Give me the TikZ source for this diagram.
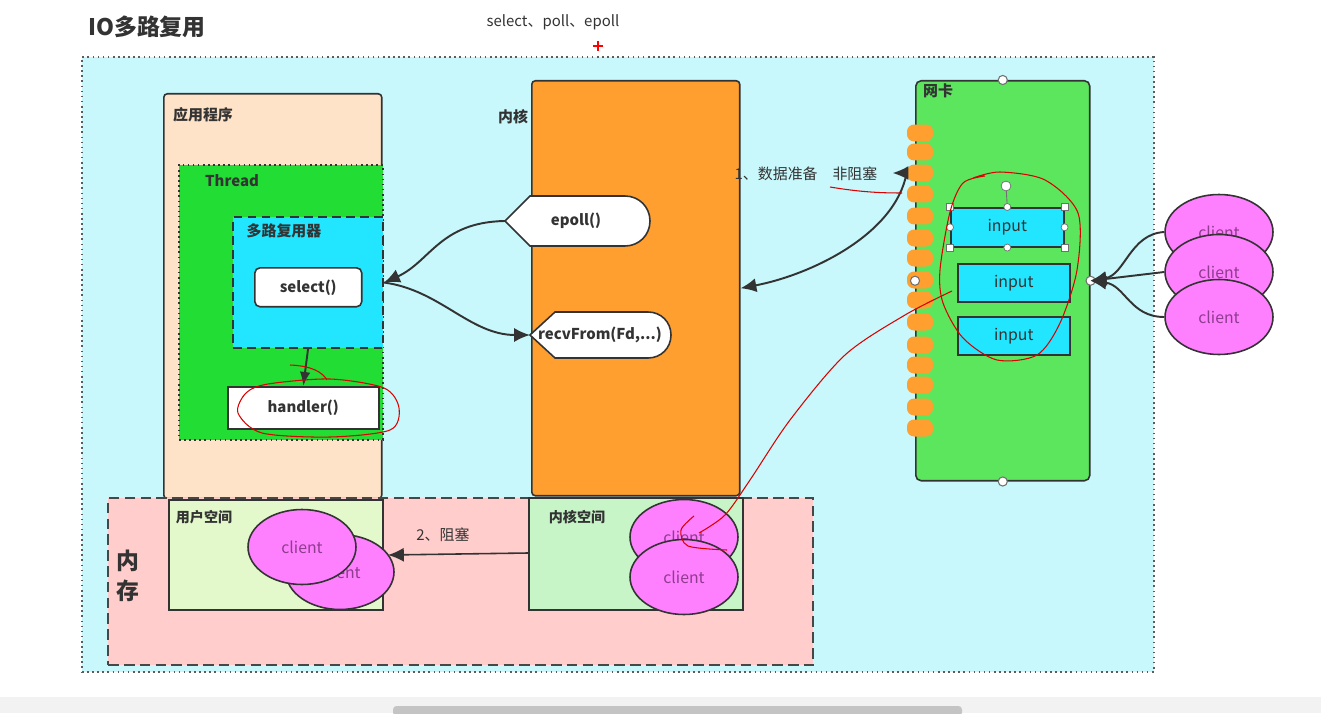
\documentclass[tikz,border=0pt]{standalone}
\usepackage{fontspec}
\setmainfont{Noto Sans CJK SC}
\usetikzlibrary{shapes.geometric,arrows.meta,calc}
\definecolor{bgcyan}{HTML}{C8F8FC}
\definecolor{peach}{HTML}{FFE3C8}
\definecolor{thrgreen}{HTML}{22DD33}
\definecolor{muxcyan}{HTML}{22E6FF}
\definecolor{kernorange}{HTML}{FF9F30}
\definecolor{nicgreen}{HTML}{5CE65E}
\definecolor{mempink}{HTML}{FFCDCB}
\definecolor{userspace}{HTML}{E3F9CB}
\definecolor{kernspace}{HTML}{C8F5C8}
\definecolor{clientpink}{HTML}{FF80FF}
\definecolor{clienttext}{HTML}{8E3C8E}
\definecolor{edge}{HTML}{333333}
\newcommand{\FS}{\fontsize{8}{10}\selectfont}
\newcommand{\FB}{\fontsize{8.5}{10}\selectfont\bfseries}

\begin{document}
\begin{tikzpicture}[x=0.02cm,y=-0.02cm]
\tikzstyle{box}=[draw=edge,line width=0.9pt,anchor=north west,inner sep=0pt]
\tikzstyle{lbl}=[font=\FB,text=edge]
\tikzstyle{client}=[ellipse,draw=edge,line width=0.9pt,fill=clientpink,minimum width=2.16cm,minimum height=1.5cm,inner sep=0pt,text=clienttext,font=\fontsize{9}{10}\selectfont]
\tikzstyle{inbox}=[box,fill=muxcyan,font=\fontsize{9}{10}\selectfont,text=edge]
\tikzstyle{arr}=[edge,line width=1.1pt,-{Latex[length=9pt,width=8pt]}]
\tikzstyle{scribble}=[red!85!black,line width=0.6pt]
\tikzstyle{handle}=[draw=edge!70,fill=white,line width=0.4pt]

\useasboundingbox (0,0) rectangle (1321,713);
\fill[white] (0,0) rectangle (1321,713);

% title
\node[font=\fontsize{13}{15}\selectfont\bfseries,text=edge] (title) at (147,27) {IO多路复用};
\node[font=\fontsize{8.5}{10}\selectfont,text=edge] (apis) at (553,22) {select、poll、epoll};
\draw[red,line width=0.8pt] (593,46) -- (603,46) (598,41) -- (598,51);

% outer area
\node[box,draw=edge!80,dotted,line width=1.1pt,fill=bgcyan,minimum width=21.44cm,minimum height=12.3cm] (outer) at (81,56) {};

% application
\node[box,fill=peach,rounded corners=2pt,minimum width=4.36cm,minimum height=8.1cm] (app) at (163,93) {};
\node[lbl] at (203,115) {应用程序};
\node[box,fill=thrgreen,dotted,line width=1.1pt,minimum width=4.08cm,minimum height=5.5cm] (thread) at (178,164) {};
\node[lbl] at (232,181) {Thread};
\node[box,fill=muxcyan,dash pattern=on 5pt off 3pt,line width=1.2pt,minimum width=3.0cm,minimum height=2.62cm] (mux) at (232,216) {};
\node[lbl] at (284,231) {多路复用器};
\node[box,fill=white,rounded corners=3pt,minimum width=2.14cm,minimum height=0.78cm] (sel) at (254,267) {};
\node[lbl] at (sel.center) {select()};
\node[box,fill=white,minimum width=3.02cm,minimum height=0.84cm] (hdl) at (227,386) {};
\node[lbl] at (hdl.center) {handler()};
\draw[arr,-{Latex[length=8pt,width=6pt]}] (mux.south) -- (hdl.north);

% kernel
\node[lbl] at (513,117) {内核};
\node[box,fill=kernorange,rounded corners=2pt,minimum width=4.16cm,minimum height=8.3cm] (kern) at (531,80) {};
\draw[draw=edge,line width=0.9pt,fill=white] (505,221) -- (530,196) -- (625,196)
  .. controls (639,196) and (650,207) .. (650,221)
  .. controls (650,235) and (639,246) .. (625,246) -- (530,246) -- cycle;
\coordinate (epollTip) at (505,221);
\node[lbl] (epoll) at (576,221) {epoll()};
\draw[draw=edge,line width=0.9pt,fill=white] (530,335) -- (555,312) -- (648,312)
  .. controls (661,312) and (671,322) .. (671,335)
  .. controls (671,348) and (661,358) .. (648,358) -- (555,358) -- cycle;
\coordinate (recvTip) at (530,335);
\node[lbl] (recv) at (600,335) {recvFrom(Fd,...)};
\draw[arr] (epollTip) .. controls (440,222) and (430,262) .. (mux.east);
\draw[arr] (mux.east) .. controls (440,290) and (470,335) .. (recvTip);

% network card
\node[box,fill=nicgreen,rounded corners=3pt,minimum width=3.48cm,minimum height=8.0cm] (nic) at (915,80) {};
\node[lbl] at (938,91) {网卡};
\foreach \y [count=\i] in {133,152,173,194,216,238,258,280,300,322,345,365,385,407,428}
  \node[fill=kernorange,rounded corners=4pt,minimum width=0.52cm,minimum height=0.34cm,inner sep=0pt] (p\i) at (920,\y) {};
\foreach \a in {north,south,west,east}
  \draw[handle,line width=0.6pt] (nic.\a) circle[radius=2.6pt];

\node[inbox,minimum width=2.26cm,minimum height=0.78cm] (in1) at (950,207) {};
\node[font=\fontsize{9}{10}\selectfont,text=edge] at (in1.center) {input};
\node[inbox,minimum width=2.24cm,minimum height=0.76cm] (in2) at (957,263) {};
\node[font=\fontsize{9}{10}\selectfont,text=edge] at (in2.center) {input};
\node[inbox,minimum width=2.24cm,minimum height=0.76cm] (in3) at (957,316) {};
\node[font=\fontsize{9}{10}\selectfont,text=edge] at (in3.center) {input};
% selection handles
\draw[edge!70,line width=0.5pt] (in1.north) -- (1006,186);
\draw[handle] (1006,186) circle[radius=2.8pt];
\foreach \a in {north,south,west,east}
  \draw[handle] (in1.\a) circle[radius=2pt];
\foreach \a in {north west,north east,south west,south east}
  \draw[handle] ($(in1.\a)+(-3.5,-3.5)$) rectangle ++(7,7);

\node[font=\fontsize{8.5}{10}\selectfont,text=edge] (step1) at (806,174) {1、数据准备\quad 非阻塞};
\draw[arr] (p3.west) .. controls (895,235) and (810,275) .. (kern.east);
\draw[arr] (p3.west) -- ++(-14,0);

% clients outside
\node[client] (c1) at (1219,232) {client};
\node[client] (c2) at (1219,272) {client};
\node[client] (c3) at (1219,317) {client};
\draw[arr] (c1.west) .. controls (1130,234) and (1125,275) .. (nic.east);
\draw[arr] (c2.west) -- (nic.east);
\draw[arr] (c3.west) .. controls (1130,317) and (1125,285) .. (nic.east);

% memory
\node[box,fill=mempink,dash pattern=on 6pt off 3pt,line width=1.4pt,draw=edge!90,minimum width=14.1cm,minimum height=3.34cm] (mem) at (107,497) {};
\node[font=\fontsize{13}{17}\selectfont\bfseries,text=edge,align=center] at (128,576) {内\\存};
\node[box,fill=userspace,minimum width=4.28cm,minimum height=2.2cm] (user) at (168,499) {};
\node[font=\FS\bfseries,text=edge] at (204,517) {用户空间};
\node[client] (u2) at (340,572) {client};
\node[client] (u1) at (302,547) {client};
\node[box,fill=kernspace,minimum width=4.28cm,minimum height=2.24cm] (kspace) at (528,497) {};
\node[font=\FS\bfseries,text=edge] at (577,517) {内核空间};
\node[client] (k1) at (684,537) {client};
\node[client] (k2) at (684,577) {client};
\coordinate (u2edge) at (388,555);
\draw[arr,line width=0.9pt] (kspace.west |- 0,553) -- (u2edge);
\node[font=\fontsize{8.5}{10}\selectfont,text=edge] (step2) at (443,535) {2、阻塞};

% hand-drawn red marks
\draw[scribble] plot[smooth cycle] coordinates {(268,384) (330,379) (384,388) (399,408) (390,430) (330,437) (262,433) (238,413) (246,393)};
\draw[scribble] (290,365) .. controls (312,366) and (322,372) .. (327,380);
\draw[scribble] (830,187) .. controls (860,192) and (880,193) .. (902,193);
\draw[scribble] plot[smooth] coordinates {(973,178) (1000,172) (1045,180) (1078,213) (1077,270) (1060,323) (1037,355) (997,360) (963,338) (943,303) (940,270) (950,212) (963,183) (985,176)};
\draw[scribble] plot[smooth] coordinates {(952,291) (905,315) (845,355) (790,420) (750,480) (725,515) (699,533)};
\draw[scribble] plot[smooth] coordinates {(694,516) (681,530) (688,546) (727,550)};

% scrollbar
\fill[black!5] (0,697) rectangle (1321,713);
\fill[black!23,rounded corners=2pt] (393,706) rectangle (962,716);
\end{tikzpicture}
\end{document}
